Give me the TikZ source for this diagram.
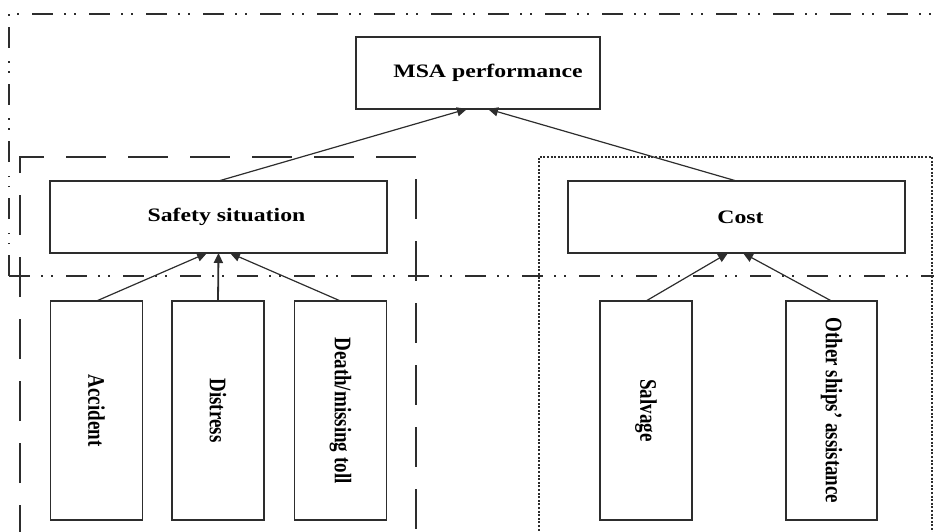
\documentclass[tikz,border=0pt]{standalone}
\usepackage{fontspec}
\setmainfont{Liberation Serif}
\usepackage{graphicx}
\usetikzlibrary{arrows.meta,calc}
\definecolor{msaline}{RGB}{45,45,45}

% wide text (the figure is stretched sideways)
\newcommand{\widetxt}[1]{\scalebox{1.25}[1]{\textbf{#1}}}
\newcommand{\sidetxt}[1]{\scalebox{1.25}[1]{\rotatebox{-90}{\textbf{#1}}}}

\tikzset{
  topbox/.style={draw=msaline,line width=1.6pt,rectangle,inner sep=0pt,outer sep=0pt,
    minimum width=337pt,minimum height=72pt,font=\fontsize{19}{22}\selectfont},
  leafbox/.style={topbox,minimum width=92pt,minimum height=219pt},
  link/.style={-{Triangle[length=10pt,width=9pt]},draw=msaline,line width=1.2pt},
  groupA/.style={draw=msaline,line width=1.5pt,dash pattern=on 40pt off 22pt},
  groupB/.style={draw=msaline,line width=1.2pt,dash pattern=on 2pt off 1.6pt},
  level/.style={draw=msaline,line width=1.5pt,
    dash pattern=on 21pt off 11pt on 1.5pt off 8.5pt on 1.5pt off 13.5pt}
}

\begin{document}
\begin{tikzpicture}[x=1pt,y=-1pt]
    \useasboundingbox (0,0) rectangle (934,532);
    \clip (0,0) rectangle (934,532);

    % Levels
    \draw[level] (9,276) -- (9,14) -- (945,14);
    \draw[level] (9,276) -- (945,276);

    % Groups
    \draw[groupA] (20,545) -- (20,157) -- (416,157) -- (416,545);
    \draw[groupB] (539,545) -- (539,157) -- (932,157) -- (932,545);

    % Goal
    \node[topbox,minimum width=244pt] (msa) at (478,73) {\hspace*{20pt}\widetxt{MSA performance}};

    % Criteria
    \node[topbox] (safety) at (218.5,217) {\hspace*{16pt}\widetxt{Safety situation}};
    \node[topbox] (cost) at (736.5,217) {\hspace*{8pt}\widetxt{Cost}};

    % Indicators
    \node[leafbox] (acc) at (96.5,410.5) {\sidetxt{Accident}};
    \node[leafbox] (dist) at (218,410.5) {\sidetxt{Distress}};
    \node[leafbox] (death) at (340.5,410.5) {\sidetxt{Death/missing toll}};
    \node[leafbox] (salv) at (646,410.5) {\sidetxt{Salvage}};
    \node[leafbox,minimum width=91pt] (other) at (831.5,410.5) {\sidetxt{Other ships' assistance}};

    % Links
    \draw[link] (safety.north) -- ($(msa.south)+(-11,0)$);
    \draw[link] (cost.north) -- ($(msa.south)+(10,0)$);
    \draw[link] (acc.north) -- ($(safety.south)+(-11.5,0)$);
    \draw[link,line width=1.8pt] (dist.north) -- (safety.south);
    \draw[link] (death.north) -- ($(safety.south)+(11.5,0)$);
    \draw[link] (salv.north) -- ($(cost.south)+(-8.5,0)$);
    \draw[link] (other.north) -- ($(cost.south)+(6.5,0)$);
\end{tikzpicture}
\end{document}
